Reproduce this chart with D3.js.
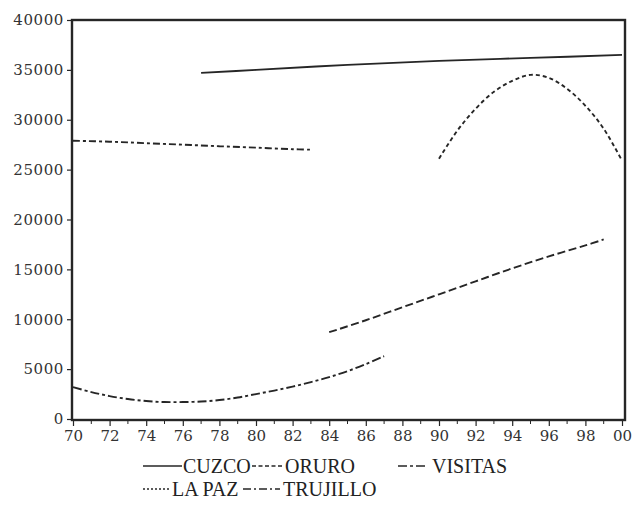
<!DOCTYPE html>
<html><head><meta charset="utf-8">
<script src="https://cdn.jsdelivr.net/npm/d3@7"></script>
<style>html,body{margin:0;padding:0;background:#fff;}svg{display:block;}
</style>
</head><body>
<script>
// ---- data ----
const xTicks = [70,72,74,76,78,80,82,84,86,88,90,92,94,96,98,100];
const xTickLabels = ["70","72","74","76","78","80","82","84","86","88","90","92","94","96","98","00"];
const yTicks = [0,5000,10000,15000,20000,25000,30000,35000,40000];

const cuzcoYears = [77,80,85,90,95,100];
const cuzcoValues = [34700,35000,35500,35900,36200,36500];

const oruroYears = [84,86,88,90,92,94,96,98,99];
const oruroValues = [8700,9900,11200,12500,13800,15100,16300,17400,18000];

const visitasYears = [70,72,74,76,78,80,82,83];
const visitasValues = [27900,27800,27650,27500,27350,27200,27050,27000];

const lapazYears = [90,91,92,93,94,95,96,97,98,99,100];
const lapazValues = [26100,28900,31100,32800,33900,34500,34200,33100,31400,29100,25900];

const trujilloYears = [70,71,72,73,74,75,76,77,78,79,80,81,82,83,84,85,86,87];
const trujilloValues = [3200,2700,2300,2000,1800,1700,1700,1750,1900,2150,2500,2850,3250,3700,4200,4800,5500,6300];

const seriesNames = ["CUZCO","ORURO","VISITAS","LA PAZ","TRUJILLO"];

// ---- drawing ----
const W = 634, H = 519;
const ink = "#262626";
const svg = d3.select("body").append("svg").attr("width", W).attr("height", H);

const x = d3.scaleLinear().domain([70,100]).range([73,622]);
const y = d3.scaleLinear().domain([0,40000]).range([419,20]);

// frame
svg.append("rect").attr("x",72).attr("y",20).attr("width",625-72).attr("height",420-20)
  .attr("fill","none").attr("stroke",ink).attr("stroke-width",2.4);

// y axis
const yAxis = svg.append("g").attr("transform","translate(71,0)")
  .call(d3.axisLeft(y).tickValues(yTicks).tickSize(4).tickPadding(3).tickFormat(d3.format("d")));
yAxis.select(".domain").remove();
yAxis.selectAll("line").attr("stroke",ink).attr("stroke-width",1.2);
yAxis.selectAll("text").attr("fill","#333").attr("font-family","DejaVu Serif").attr("font-size",15).style("letter-spacing","0.6px");

// x axis major
const xAxis = svg.append("g").attr("transform","translate(0,421)")
  .call(d3.axisBottom(x).tickValues(xTicks).tickSize(5).tickPadding(4).tickFormat((d,i)=>xTickLabels[i]));
xAxis.select(".domain").remove();
xAxis.selectAll("line").attr("stroke",ink).attr("stroke-width",1.2);
xAxis.selectAll("text").attr("fill","#333").attr("font-family","DejaVu Serif").attr("font-size",15);
// minor ticks
const minor = d3.range(71,100,2);
svg.append("g").selectAll("line").data(minor).join("line")
  .attr("x1",d=>x(d)).attr("x2",d=>x(d)).attr("y1",421).attr("y2",424)
  .attr("stroke",ink).attr("stroke-width",1);

const styles = {
  "CUZCO": null,
  "ORURO": "8,3.5",
  "VISITAS": "7,3,3,3",
  "LA PAZ": "4,3",
  "TRUJILLO": "9,3,3,3"
};

const line = d3.line().x(d=>x(d[0])).y(d=>y(d[1])).curve(d3.curveCatmullRom);
function draw(years, values, name){
  svg.append("path").datum(years.map((yr,i)=>[yr,values[i]]))
    .attr("d",line).attr("fill","none").attr("stroke",ink).attr("stroke-width",1.9)
    .attr("stroke-dasharray",styles[name]);
}
draw(cuzcoYears,cuzcoValues,"CUZCO");
draw(oruroYears,oruroValues,"ORURO");
draw(visitasYears,visitasValues,"VISITAS");
draw(lapazYears,lapazValues,"LA PAZ");
draw(trujilloYears,trujilloValues,"TRUJILLO");

// legend
const legendPos = [
  {name:"CUZCO", x1:143, x2:182, tx:183, ty:466},
  {name:"ORURO", x1:252, x2:282, tx:285, ty:466},
  {name:"VISITAS", x1:398, x2:428, tx:432, ty:466},
  {name:"LA PAZ", x1:143, x2:171, tx:172, ty:489},
  {name:"TRUJILLO", x1:243, x2:280, tx:283, ty:489}
];
const lg = svg.append("g");
legendPos.forEach(p=>{
  const ds = p.name==="LA PAZ" ? "2,2" : p.name==="TRUJILLO" ? "8,3,2,3" : p.name==="VISITAS" ? "9,3,3,3" : p.name==="ORURO" ? "4,2.5" : null;
  lg.append("line").attr("x1",p.x1).attr("x2",p.x2).attr("y1",p.ty).attr("y2",p.ty)
    .attr("stroke",ink).attr("stroke-width",1.4).attr("stroke-dasharray",ds);
  lg.append("text").attr("x",p.tx).attr("y",p.ty+7).text(p.name)
    .attr("fill","#222").attr("font-family","Liberation Serif").attr("font-size",20);
});
</script>
</body></html>
